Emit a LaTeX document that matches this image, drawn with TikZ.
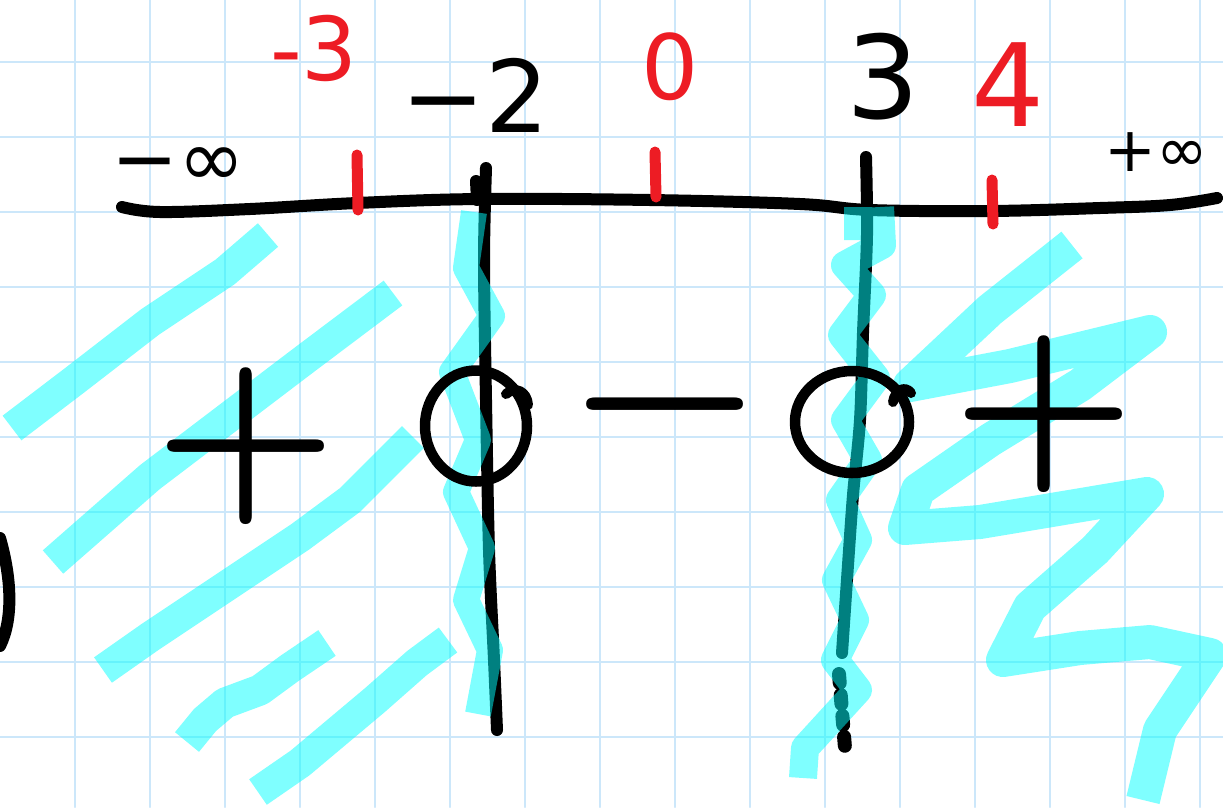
\documentclass[tikz,border=0pt]{standalone}
\usepackage{fontspec}
\newfontfamily\handfont{DejaVu Sans}
\newfontfamily\signfont{lmroman10-bold.otf}
\newcommand{\hand}[1]{\handfont\fontsize{#1}{#1}\selectfont}
\usetikzlibrary{shapes.geometric}
\definecolor{penred}{HTML}{ED1C24}
\definecolor{gridblue}{HTML}{CCE7FA}
\definecolor{hiliter}{HTML}{00FFFF}

\begin{document}
\begin{tikzpicture}[x=1pt, y=-1pt, line cap=round, line join=round,
	gridline/.style={gridblue, line width=2.5pt},
	pen/.style={black, line width=12pt},
	redpen/.style={penred, line width=11pt},
	hilite/.style={hiliter, opacity=0.5, line width=31pt, line cap=butt},
	lbl/.style={inner sep=0pt},
	sign/.style={inner sep=0pt, anchor=base, font=\signfont\fontsize{205}{205}\selectfont},
	zero/.style={draw, ellipse, line width=10.5pt, inner sep=0pt}]
	\useasboundingbox (0,0) rectangle (1223,807);
	\foreach \x in {75,150,...,1200} \draw[gridline] (\x,0) -- (\x,807);
	\foreach \y in {62,137,...,737} \draw[gridline] (0,\y) -- (1223,\y);

	\draw[pen] plot[smooth, tension=0.6] coordinates {(122,207) (160,212) (250,209) (357,203) (480,199) (650,200) (800,204) (870,210) (990,211) (1100,208) (1170,205) (1217,198)};
	\draw[redpen] (357,155) -- (358,210);
	\draw[redpen] (655,152) -- (656,197);
	\draw[redpen] (992,180) -- (993,224);

	\draw[pen] plot[smooth] coordinates {(486,168) (484,260) (486,400) (489,550) (494,660) (497,730)};
	\draw[pen] (476,181) -- (477,200);
	\draw[pen] plot[smooth] coordinates {(866,157) (867,235) (863,333) (860,420) (853,495) (848,565) (842,653)};
	\draw[pen, line width=14pt, dash pattern=on 9pt off 12pt] (839,674) -- (845,748);
	\draw[pen] (0,538) .. controls (12,580) and (13,620) .. (0,646);

	\draw[hilite] (12,428) -- (75,380) -- (150,322) -- (225,272) -- (268,235);
	\draw[hilite] (53,562) -- (150,477) -- (225,420) -- (300,363) -- (393,293);
	\draw[hilite] (103,670) -- (150,637) -- (225,587) -- (300,537) -- (350,500) -- (413,437);
	\draw[hilite] (187,742) -- (205,720) -- (225,703) -- (260,690) -- (290,668) -- (327,643);
	\draw[hilite] (258,792) -- (300,763) -- (375,700) -- (417,663) -- (448,640);
	\draw[hilite, line width=26pt] (474,212) -- (466,268) -- (492,316) -- (452,372) -- (478,440) -- (456,492) -- (482,548) -- (466,600) -- (490,650) -- (478,714);
	\draw[hilite, line width=28pt] (880,207) -- (882,245) -- (845,265) -- (872,295) -- (842,335) -- (876,378) -- (845,420) -- (868,460) -- (840,500) -- (858,540) -- (836,580) -- (855,620) -- (835,660) -- (858,690) -- (805,748) -- (803,778) (858,207) -- (858,240);
	\draw[hilite, line width=34pt] (1072,245) -- (990,310) -- (910,385) -- (1010,366) -- (1150,332) -- (1080,385) -- (990,440) -- (918,490) -- (905,528) -- (980,522) -- (1147,494) -- (1095,550) -- (1030,607) -- (1003,660) -- (1080,648) -- (1150,642) -- (1210,655) -- (1160,730) -- (1143,800);

	\node[zero, minimum width=102pt, minimum height=111pt] (zeroL) at (476,426) {};
	\node[zero, minimum width=114pt, minimum height=102pt] (zeroR) at (852,422) {};
	\draw[pen, line width=10pt] (506,394) .. controls (515,386) and (527,391) .. (528,405);
	\draw[pen, line width=10pt] (893,402) .. controls (895,390) and (905,385) .. (911,393);

	\node[sign] (plusL) at (246,497) {+};
	\node[sign] (minusM) at (665,455) {−};
	\node[sign] (plusR) at (1044,465) {+};

	\node[lbl, font={\hand{80}}] (minf) at (178,167) {−∞};
	\node[lbl, font={\hand{62}}] (pinf) at (1156,152) {+∞};
	\node[lbl, penred, font={\hand{88}}] (lblm3) at (314,48) {-3};
	\node[lbl, font={\hand{100}}] (lblm2) at (475,95) {−2};
	\node[lbl, penred, font={\hand{90}}] (lbl0) at (670,67) {0};
	\node[lbl, font={\hand{115}}] (lbl3) at (883,77) {3};
	\node[lbl, penred, font={\hand{115}}] (lbl4) at (1008,85) {4};
\end{tikzpicture}
\end{document}
